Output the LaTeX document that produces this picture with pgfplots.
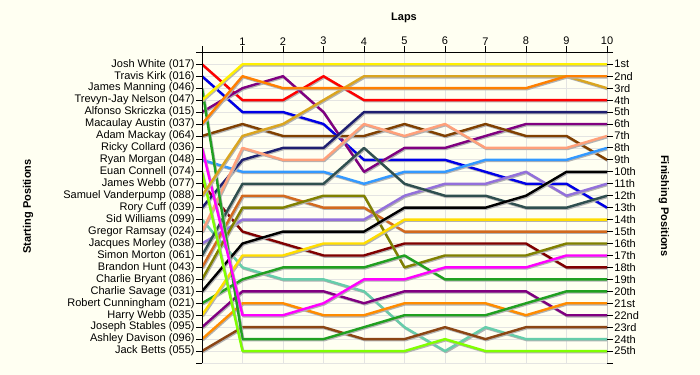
\documentclass[border=0pt]{standalone}
\usepackage{fontspec}
\setmainfont{Liberation Sans}
\usepackage{pgfplots}
\pgfplotsset{compat=1.18}
\definecolor{bgcream}{HTML}{FFFFF2}
\definecolor{gridc}{HTML}{E4E4E2}
\definecolor{cRed}{HTML}{FF0000}
\definecolor{cBlue}{HTML}{0000E6}
\definecolor{cGreen}{HTML}{20A020}
\definecolor{cYellow}{HTML}{FFF000}
\definecolor{cPurple}{HTML}{800080}
\definecolor{cOrange}{HTML}{FF8000}
\definecolor{cBrown}{HTML}{804000}
\definecolor{cMagenta}{HTML}{FF00FF}
\definecolor{cSky}{HTML}{3399FF}
\definecolor{cLime}{HTML}{80FF00}
\definecolor{cDarkRed}{HTML}{800000}
\definecolor{cGold}{HTML}{DAA520}
\definecolor{cNavy}{HTML}{1E1E70}
\definecolor{cAqua}{HTML}{66CDAA}
\definecolor{cSalmon}{HTML}{FFA07A}
\definecolor{cMedPurple}{HTML}{9370DB}
\definecolor{cSlate}{HTML}{2F4F4F}
\definecolor{cChoc}{HTML}{D2691E}
\definecolor{cOlive}{HTML}{808000}
\definecolor{cYellowB}{HTML}{FFDD00}
\definecolor{cOrangeB}{HTML}{FF8C00}
\definecolor{cSaddle}{HTML}{8B4513}
\begin{document}
\begin{tikzpicture}
\useasboundingbox (0,0) rectangle (700bp,375bp);
\fill[bgcream] (0,0) rectangle (700bp,375bp);
\pgfplotsset{
  lapbase/.style={
    scale only axis, width=405bp, height=310.7bp,
    at={(202bp,12bp)}, anchor=south west,
    xmin=0, xmax=10, ymin=0, ymax=26, y dir=reverse,
    axis line style={draw=none},
    tick align=outside, major tick length=6bp,
    every tick/.style={black, line width=0.9bp},
    tick label style={font=\fontsize{11bp}{12bp}\selectfont, text=black},
  }
}
\begin{axis}[lapbase,
    xtick={0,1,2,3,4,5,6,7,8,9,10},
    xticklabels={{},1,2,3,4,5,6,7,8,9,10},
    xtick pos=upper,
    xticklabel style={inner sep=1bp},
    ytick={0,1,...,26},
    yticklabels={{},Josh White (017),Travis Kirk (016),James Manning (046),Trevyn-Jay Nelson (047),Alfonso Skriczka (015),Macaulay Austin (037),Adam Mackay (064),Ricky Collard (036),Ryan Morgan (048),Euan Connell (074),James Webb (077),Samuel Vanderpump (088),Rory Cuff (039),Sid Williams (099),Gregor Ramsay (024),Jacques Morley (038),Simon Morton (061),Brandon Hunt (043),Charlie Bryant (086),Charlie Savage (031),Robert Cunningham (021),Harry Webb (035),Joseph Stables (095),Ashley Davison (096),Jack Betts (055),{}},
    ytick pos=left,
    yticklabel style={inner sep=1.2bp},
    grid=major, grid style={gridc, line width=0.8bp},
    every axis plot/.append style={no markers, line width=2.4bp, line join=round,
      preaction={draw=black!30, line width=2.4bp, transform canvas={shift={(0.9bp,-1.1bp)}}}},
]
% Josh White
\addplot[cRed] coordinates {(0,1)(1,4)(2,4)(3,2)(4,4)(5,4)(6,4)(7,4)(8,4)(9,4)(10,4)};
% Travis Kirk
\addplot[cBlue] coordinates {(0,2)(1,5)(2,5)(3,6)(4,9)(5,9)(6,9)(7,10)(8,11)(9,11)(10,13)};
% Alfonso Skriczka
\addplot[cPurple] coordinates {(0,5)(1,3)(2,2)(3,5)(4,10)(5,8)(6,8)(7,7)(8,6)(9,6)(10,6)};
% Adam Mackay
\addplot[cBrown] coordinates {(0,7)(1,6)(2,7)(3,7)(4,7)(5,6)(6,7)(7,6)(8,7)(9,7)(10,9)};
% Ryan Morgan
\addplot[cSky] coordinates {(0,9)(1,10)(2,10)(3,10)(4,11)(5,10)(6,10)(7,9)(8,9)(9,9)(10,8)};
% James Webb
\addplot[cDarkRed] coordinates {(0,11)(1,15)(2,16)(3,17)(4,17)(5,16)(6,16)(7,16)(8,16)(9,18)(10,18)};
% Rory Cuff
\addplot[cNavy] coordinates {(0,13)(1,9)(2,8)(3,8)(4,5)(5,5)(6,5)(7,5)(8,5)(9,5)(10,5)};
% Sid Williams
\addplot[cAqua] coordinates {(0,14)(1,18)(2,19)(3,19)(4,20)(5,23)(6,25)(7,23)(8,24)(9,24)(10,24)};
% Gregor Ramsay
\addplot[cSalmon] coordinates {(0,15)(1,8)(2,9)(3,9)(4,6)(5,7)(6,6)(7,8)(8,8)(9,8)(10,7)};
% Jacques Morley
\addplot[cMedPurple] coordinates {(0,16)(1,14)(2,14)(3,14)(4,14)(5,12)(6,11)(7,11)(8,10)(9,12)(10,11)};
% Simon Morton
\addplot[cSlate] coordinates {(0,17)(1,11)(2,11)(3,11)(4,8)(5,11)(6,12)(7,12)(8,13)(9,13)(10,12)};
% Brandon Hunt
\addplot[cChoc] coordinates {(0,18)(1,12)(2,12)(3,13)(4,13)(5,15)(6,15)(7,15)(8,15)(9,15)(10,15)};
% Charlie Bryant
\addplot[cOlive] coordinates {(0,19)(1,13)(2,13)(3,12)(4,12)(5,18)(6,17)(7,17)(8,17)(9,16)(10,16)};
% Charlie Savage
\addplot[black] coordinates {(0,20)(1,16)(2,15)(3,15)(4,15)(5,13)(6,13)(7,13)(8,12)(9,10)(10,10)};
% Robert Cunningham
\addplot[cGreen] coordinates {(0,21)(1,19)(2,18)(3,18)(4,18)(5,17)(6,19)(7,19)(8,19)(9,19)(10,19)};
% Harry Webb
\addplot[cYellowB] coordinates {(0,22)(1,17)(2,17)(3,16)(4,16)(5,14)(6,14)(7,14)(8,14)(9,14)(10,14)};
% Joseph Stables
\addplot[cPurple] coordinates {(0,23)(1,20)(2,20)(3,20)(4,21)(5,20)(6,20)(7,20)(8,20)(9,22)(10,22)};
% Ashley Davison
\addplot[cOrangeB] coordinates {(0,24)(1,21)(2,21)(3,22)(4,22)(5,21)(6,21)(7,21)(8,22)(9,21)(10,21)};
% Jack Betts
\addplot[cSaddle] coordinates {(0,25)(1,23)(2,23)(3,23)(4,24)(5,24)(6,23)(7,24)(8,23)(9,23)(10,23)};
% James Manning
\addplot[cGreen] coordinates {(0,3)(1,24)(2,24)(3,24)(4,23)(5,22)(6,22)(7,22)(8,21)(9,20)(10,20)};
% Ricky Collard
\addplot[cMagenta] coordinates {(0,8)(1,22)(2,22)(3,21)(4,19)(5,19)(6,18)(7,18)(8,18)(9,17)(10,17)};
% Euan Connell
\addplot[cLime] coordinates {(0,10)(1,25)(2,25)(3,25)(4,25)(5,25)(6,24)(7,25)(8,25)(9,25)(10,25)};
% Samuel Vanderpump
\addplot[cGold] coordinates {(0,12)(1,7)(2,6)(3,4)(4,2)(5,2)(6,2)(7,2)(8,2)(9,2)(10,3)};
% Macaulay Austin
\addplot[cOrange] coordinates {(0,6)(1,2)(2,3)(3,3)(4,3)(5,3)(6,3)(7,3)(8,3)(9,2)(10,2)};
% Trevyn-Jay Nelson
\addplot[cYellow] coordinates {(0,4)(1,1)(2,1)(3,1)(4,1)(5,1)(6,1)(7,1)(8,1)(9,1)(10,1)};
\draw[black, line width=0.9bp] (axis cs:0,26) -- (axis cs:0,0) -- (axis cs:10,0) -- (axis cs:10,26);
\end{axis}
\begin{axis}[lapbase,
    xtick=\empty,
    ytick={0,1,...,26},
    yticklabels={{},1st,2nd,3rd,4th,5th,6th,7th,8th,9th,10th,11th,12th,13th,14th,15th,16th,17th,18th,19th,20th,21st,22nd,23rd,24th,25th,{}},
    ytick pos=right,
    yticklabel style={inner sep=1.2bp},
]
\end{axis}
\node[font=\bfseries\fontsize{11bp}{12bp}\selectfont] at (404bp,357bp) {Laps};
\node[font=\bfseries\fontsize{11bp}{12bp}\selectfont, rotate=90] at (28bp,168.5bp) {Starting Positions};
\node[font=\bfseries\fontsize{11bp}{12bp}\selectfont, rotate=-90] at (664bp,169bp) {Finishing Positions};
\end{tikzpicture}
\end{document}
